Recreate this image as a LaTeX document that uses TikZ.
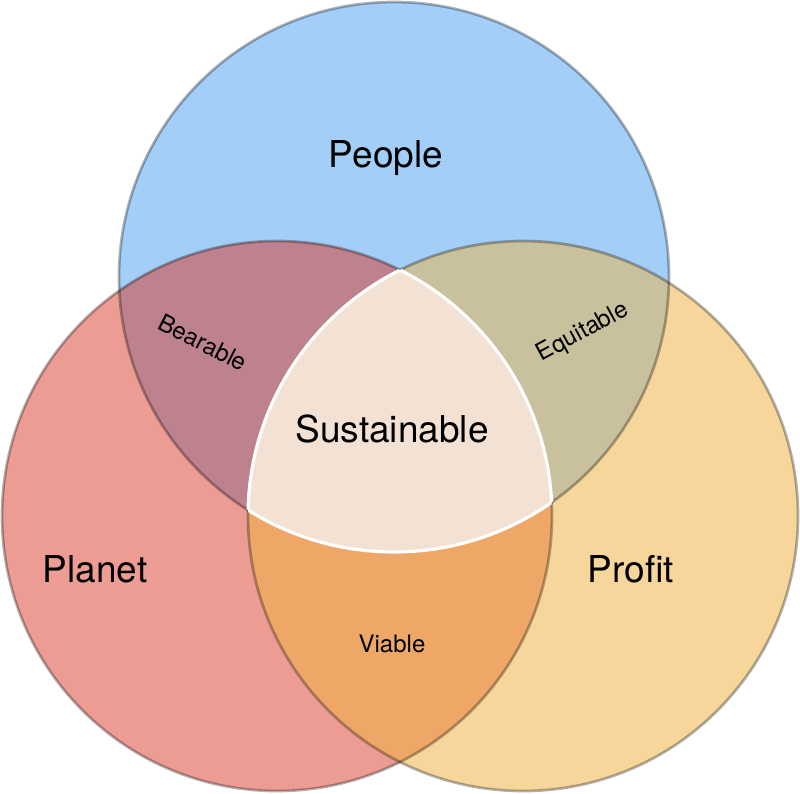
\documentclass[tikz,border=0pt]{standalone}
\usepackage{fontspec}
\setmainfont{TeX Gyre Heros}
\definecolor{cpeople}{HTML}{A3CEF8}
\definecolor{cplanet}{HTML}{EC9C93}
\definecolor{cprofit}{HTML}{F7D69C}
\definecolor{cbear}{HTML}{BE828F}
\definecolor{cequi}{HTML}{C9C09D}
\definecolor{cviab}{HTML}{EEA766}
\definecolor{csust}{HTML}{F3E2D4}
\tikzset{
  rim/.style={draw=black, draw opacity=0.3, line width=2.7pt},
  whiterim/.style={draw=white, line width=3.2pt},
  biglabel/.style={font=\fontsize{37}{44}\selectfont, text=black, inner sep=0pt},
  smalllabel/.style={font=\fontsize{24}{29}\selectfont, text=black, inner sep=0pt},
}
\begin{document}
\begin{tikzpicture}[x=1pt, y=-1pt]
\useasboundingbox (0,0) rectangle (800,793);
\coordinate (cB) at (394,277);
\coordinate (cR) at (277,516);
\coordinate (cY) at (523,516);
\def\rr{275pt}
% base fills
\fill[cpeople] (cB) circle[radius=\rr];
\fill[cplanet] (cR) circle[radius=\rr];
\fill[cprofit] (cY) circle[radius=\rr];
% pairwise overlaps
\begin{scope}
  \clip (cR) circle[radius=\rr];
  \fill[cbear] (cB) circle[radius=\rr];
\end{scope}
\begin{scope}
  \clip (cY) circle[radius=\rr];
  \fill[cequi] (cB) circle[radius=\rr];
\end{scope}
\begin{scope}
  \clip (cR) circle[radius=\rr];
  \fill[cviab] (cY) circle[radius=\rr];
\end{scope}
% outlines
\draw[rim] (cB) circle[radius=\rr];
\draw[rim] (cR) circle[radius=\rr];
\draw[rim] (cY) circle[radius=\rr];
% triple overlap
\begin{scope}
  \clip (cR) circle[radius=\rr];
  \clip (cY) circle[radius=\rr];
  \fill[csust] (cB) circle[radius=\rr];
\end{scope}
\begin{scope}
  \clip (cR) circle[radius=\rr];
  \clip (cY) circle[radius=\rr];
  \draw[whiterim] (cB) circle[radius=\rr];
\end{scope}
\begin{scope}
  \clip (cB) circle[radius=\rr];
  \clip (cY) circle[radius=\rr];
  \draw[whiterim] (cR) circle[radius=\rr];
\end{scope}
\begin{scope}
  \clip (cB) circle[radius=\rr];
  \clip (cR) circle[radius=\rr];
  \draw[whiterim] (cY) circle[radius=\rr];
\end{scope}
% labels
\node[biglabel, anchor=base] (people) at (386,167) {People};
\node[biglabel, anchor=base] (planet) at (95,582) {Planet};
\node[biglabel, anchor=base] (profit) at (631,582) {Profit};
\node[biglabel, anchor=base] (sust) at (392,442) {Sustainable};
\node[smalllabel, anchor=base] (viable) at (392,652) {Viable};
\node[smalllabel, anchor=base, rotate=-27] (bear) at (199,350) {Bearable};
\node[smalllabel, anchor=base, rotate=28.5] (equi) at (586,338) {Equitable};
\end{tikzpicture}
\end{document}
